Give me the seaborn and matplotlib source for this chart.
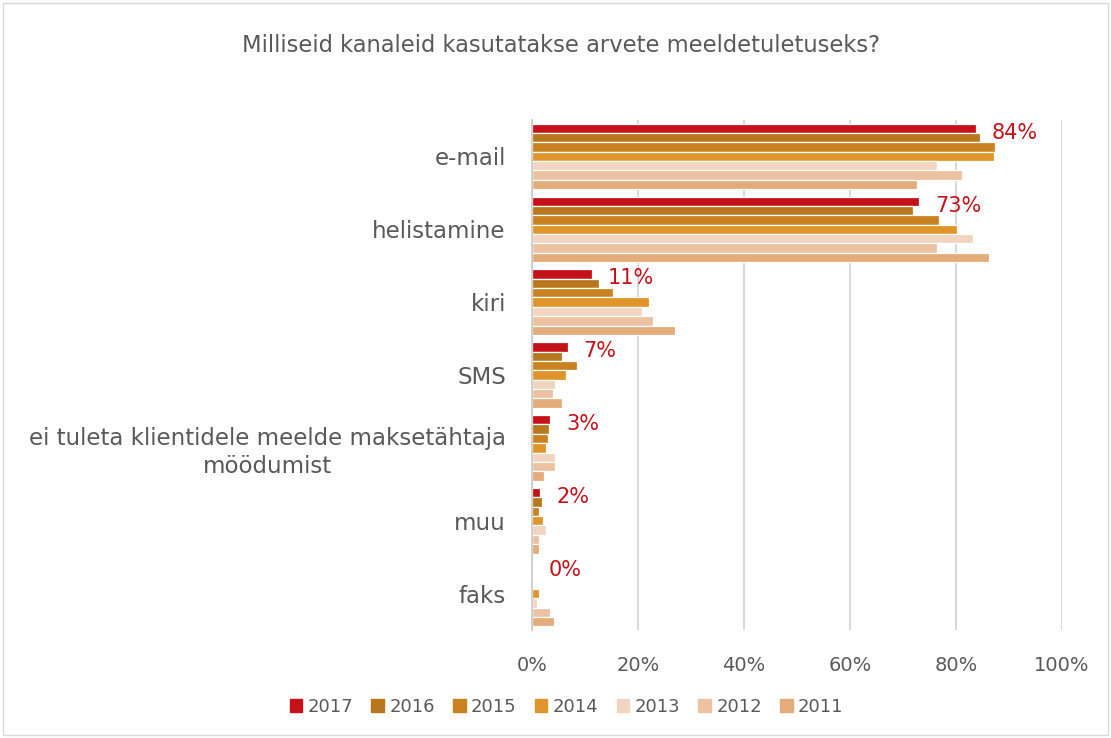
import pandas as pd
import matplotlib.pyplot as plt
import matplotlib.patches as mpatches
import seaborn as sns

# chart data (share of respondents, %)
categories = ["e-mail", "helistamine", "kiri", "SMS",
              "ei tuleta klientidele meelde maksetähtaja\nmöödumist", "muu", "faks"]
years = ["2017", "2016", "2015", "2014", "2013", "2012", "2011"]
v2017 = [83.7, 73.0, 11.3, 6.7, 3.4, 1.5, 0.1]
v2016 = [84.5, 71.8, 12.7, 5.6, 3.2, 1.8, 0.1]
v2015 = [87.4, 76.8, 15.3, 8.4, 3.0, 1.2, 0.1]
v2014 = [87.2, 80.1, 22.0, 6.3, 2.7, 2.0, 1.3]
v2013 = [76.4, 83.2, 20.8, 4.4, 4.4, 2.7, 1.0]
v2012 = [81.2, 76.3, 22.8, 3.9, 4.3, 1.2, 3.4]
v2011 = [72.7, 86.2, 27.0, 5.7, 2.2, 1.3, 4.1]
labels_2017 = ["84%", "73%", "11%", "7%", "3%", "2%", "0%"]
x_ticks = [0, 20, 40, 60, 80, 100]

colors = ["#C4111A", "#B8771C", "#C9821F", "#E0952A", "#F1D5C1", "#ECC2A3", "#E4AC7B"]

series = [v2017, v2016, v2015, v2014, v2013, v2012, v2011]
rows = []
for yr, vals in zip(years, series):
    for cat, v in zip(categories, vals):
        rows.append({"cat": cat, "year": yr, "val": v})
df = pd.DataFrame(rows)

sns.set_theme(style="white")
plt.rcParams['font.family'] = ['DejaVu Sans']
txt = "#595959"

fig = plt.figure(figsize=(11.11, 7.38), dpi=100)
ax = fig.add_axes([0.479, 0.1463, 0.477, 0.6911])

sns.barplot(data=df, y="cat", x="val", hue="year", order=categories, hue_order=years,
            palette=colors, orient="h", width=0.9, saturation=1,
            edgecolor="white", linewidth=0.9, ax=ax, legend=False)

ax.set_xlim(0, 100)
ax.set_xticks(x_ticks)
ax.set_xticklabels([f"{t}%" for t in x_ticks], fontsize=14, color=txt)
ax.xaxis.grid(True, color="#D9D9D9", linewidth=1.5)
ax.set_axisbelow(True)
ax.tick_params(axis="x", length=0, pad=19)
ax.tick_params(axis="y", which="major", length=0, pad=19, labelsize=16.5, labelcolor=txt)
for lbl in ax.get_yticklabels():
    lbl.set_multialignment("center")
    lbl.set_linespacing(1.25)
ax.set_yticks([i + 0.5 for i in range(-1, len(categories))], minor=True)
ax.tick_params(axis="y", which="minor", length=5, width=1.2, color="#C8C8C8", direction="out")
ax.set_xlabel("")
ax.set_ylabel("")
for s in ["top", "right", "bottom"]:
    ax.spines[s].set_visible(False)
ax.spines["left"].set_color("#C8C8C8")
ax.spines["left"].set_linewidth(1.2)

# data labels for 2017
bar_h = 0.9 / len(years)
for i, (v, lab) in enumerate(zip(v2017, labels_2017)):
    ax.text(v + 3, i - 0.45 + bar_h / 2 + 0.06, lab, color="#C4111A", fontsize=15,
            va="center", ha="left")

handles = [mpatches.Patch(color=c, label=y) for c, y in zip(colors, years)]
fig.legend(handles=handles, loc="center", bbox_to_anchor=(0.51, 0.042), ncol=7,
           frameon=False, fontsize=13, handlelength=0.7, handleheight=0.7,
           handletextpad=0.3, columnspacing=1.0, labelcolor=txt)

fig.text(0.505, 0.939, "Milliseid kanaleid kasutatakse arvete meeldetuletuseks?",
         ha="center", va="center", fontsize=16.3, color=txt)

fig.patches.append(mpatches.Rectangle((0.003, 0.004), 0.994, 0.992, transform=fig.transFigure,
                                      fill=False, edgecolor="#D9D9D9", linewidth=1))

fig.savefig("out.png", dpi=100)
